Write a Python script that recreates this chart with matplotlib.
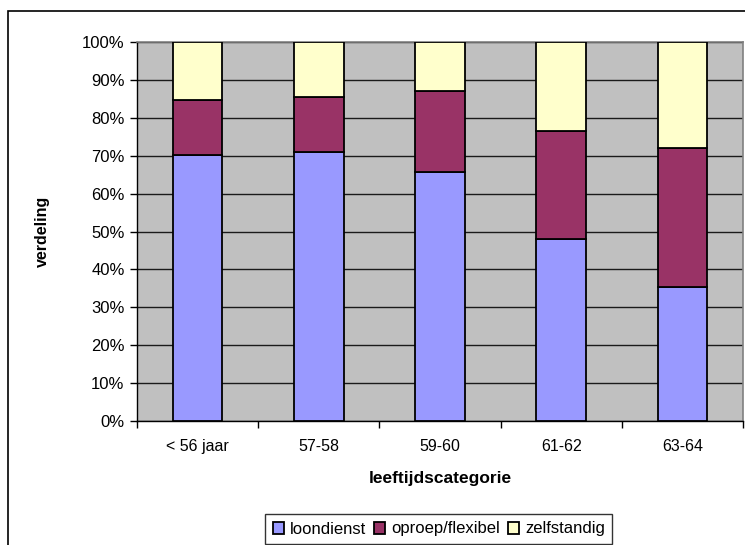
import matplotlib
matplotlib.use('Agg')
import matplotlib.pyplot as plt
from matplotlib.patches import Rectangle
from matplotlib.ticker import FuncFormatter, MultipleLocator

plt.rcParams['font.family'] = ['Liberation Sans', 'DejaVu Sans']

# data (percentages)
categories = ['< 56 jaar', '57-58', '59-60', '61-62', '63-64']
loondienst = [70.2, 71.1, 65.7, 47.9, 35.3]
oproep = [14.4, 14.4, 21.4, 28.6, 36.7]
zelfstandig = [15.4, 14.5, 12.9, 23.5, 28.0]
series_names = ['loondienst', 'oproep/flexibel', 'zelfstandig']
colors = ['#9999FF', '#993366', '#FFFFCC']

W, H = 745, 545
fig = plt.figure(figsize=(W / 100, H / 100), dpi=100)

# outer chart border (runs off the right and bottom edge)
fig.patches.append(Rectangle((8 / W, -0.05), 1.1, 1 - 11 / H + 0.05,
                             transform=fig.transFigure, fill=False,
                             edgecolor='black', linewidth=1.2))

ax = fig.add_axes([137 / W, 1 - 421 / H, 606 / W, 379 / H])
ax.set_facecolor('#C0C0C0')

x = range(len(categories))
bottom = [0] * len(categories)
for vals, name, c in zip([loondienst, oproep, zelfstandig], series_names, colors):
    ax.bar(x, vals, width=0.41, bottom=bottom, color=c, edgecolor='black',
           linewidth=1.3, label=name, zorder=3)
    bottom = [b + v for b, v in zip(bottom, vals)]

ax.set_xlim(-0.5, len(categories) - 0.5)
ax.set_ylim(0, 100)
ax.yaxis.set_major_locator(MultipleLocator(10))
ax.yaxis.set_major_formatter(FuncFormatter(lambda v, p: '%d%%' % v))
ax.yaxis.grid(True, color='#1a1a1a', linewidth=1)
ax.set_axisbelow(True)

# category labels centred, ticks on category boundaries
ax.set_xticks([i - 0.5 for i in range(len(categories) + 1)])
ax.set_xticklabels([])
ax.set_xticks(list(x), minor=True)
ax.set_xticklabels(categories, minor=True)
ax.tick_params(axis='x', which='minor', length=0, pad=13, labelsize=11.5)
ax.tick_params(axis='x', which='major', length=5, width=1, direction='out')
ax.tick_params(axis='y', length=5, width=1, direction='out', labelsize=12, pad=4)

for s in ['top', 'right']:
    ax.spines[s].set_color('#808080')
    ax.spines[s].set_linewidth(1.2)
for s in ['left', 'bottom']:
    ax.spines[s].set_color('black')
    ax.spines[s].set_linewidth(1)

ax.set_xlabel('leeftijdscategorie', fontsize=12.5, fontweight='bold', labelpad=12)
ax.set_ylabel('verdeling', fontsize=11.5, fontweight='bold', labelpad=23)

leg = fig.legend(loc='upper left', bbox_to_anchor=(265 / W, 1 - 514 / H), ncol=3,
                 frameon=True, fancybox=False, fontsize=12, handlelength=0.7,
                 handleheight=0.7, handletextpad=0.35, columnspacing=0.45,
                 borderpad=0.45, borderaxespad=0)
leg.get_frame().set_edgecolor('black')
leg.get_frame().set_linewidth(1)

fig.savefig('out.png', dpi=100)
